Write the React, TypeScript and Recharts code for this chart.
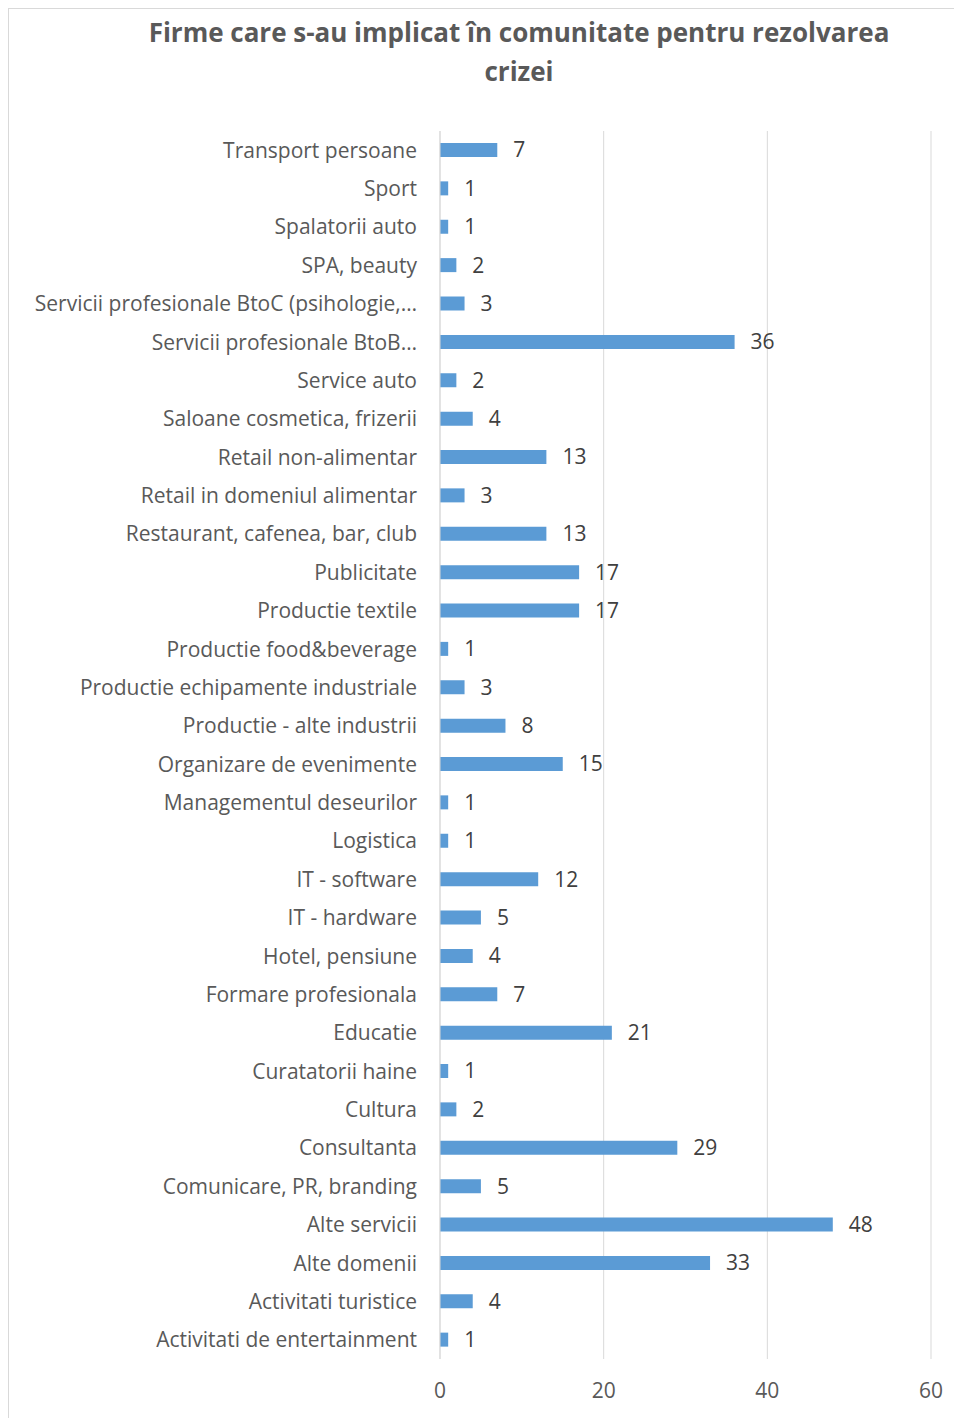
import { BarChart, Bar, XAxis, YAxis, CartesianGrid, LabelList } from 'recharts';

const categories = [
  'Transport persoane',
  'Sport',
  'Spalatorii auto',
  'SPA, beauty',
  'Servicii profesionale BtoC (psihologie,…',
  'Servicii profesionale BtoB…',
  'Service auto',
  'Saloane cosmetica, frizerii',
  'Retail non-alimentar',
  'Retail in domeniul alimentar',
  'Restaurant, cafenea, bar, club',
  'Publicitate',
  'Productie textile',
  'Productie food&beverage',
  'Productie echipamente industriale',
  'Productie - alte industrii',
  'Organizare de evenimente',
  'Managementul deseurilor',
  'Logistica',
  'IT - software',
  'IT - hardware',
  'Hotel, pensiune',
  'Formare profesionala',
  'Educatie',
  'Curatatorii haine',
  'Cultura',
  'Consultanta',
  'Comunicare, PR, branding',
  'Alte servicii',
  'Alte domenii',
  'Activitati turistice',
  'Activitati de entertainment',
];

const firme = [7, 1, 1, 2, 3, 36, 2, 4, 13, 3, 13, 17, 17, 1, 3, 8, 15, 1, 1, 12, 5, 4, 7, 21, 1, 2, 29, 5, 48, 33, 4, 1];

const xTicks = [0, 20, 40, 60];

const data = categories.map((name, i) => ({ name, firme: firme[i] }));

const font = '"Open Sans", sans-serif';

export default function App() {
  return (
    <div style={{ position: 'relative', width: 950, height: 1420, border: '1px solid #d9d9d9', fontFamily: font }}>
      <div style={{ position: 'absolute', left: 0, width: 1020, top: 4, textAlign: 'center', fontSize: 26, fontWeight: 700, color: '#595959', lineHeight: '39px' }}>
        Firme care s-au implicat în comunitate pentru rezolvarea
        <br />
        crizei
      </div>
      <BarChart
        width={950}
        height={1410}
        data={data}
        layout="vertical"
        margin={{ top: 122, right: 28, bottom: 20, left: 0 }}
        barCategoryGap={12}
      >
        <CartesianGrid horizontal={false} stroke="#d9d9d9" />
        <XAxis
          type="number"
          domain={[0, 60]}
          ticks={xTicks}
          axisLine={false}
          tickLine={false}
          tickSize={0}
          tickMargin={24}
          height={40}
          tick={{ fill: '#595959', fontSize: 21, fontFamily: font }}
        />
        <YAxis
          type="category"
          dataKey="name"
          width={431}
          interval={0}
          axisLine={{ stroke: '#d9d9d9' }}
          tickLine={false}
          tickSize={0}
          tickMargin={23}
          tick={{ fill: '#595959', fontSize: 21, fontFamily: font }}
        />
        <Bar dataKey="firme" fill="#5b9bd5" barSize={14} isAnimationActive={false}>
          <LabelList dataKey="firme" position="right" offset={16} fill="#404040" fontSize={21} fontFamily={font} />
        </Bar>
      </BarChart>
    </div>
  );
}
